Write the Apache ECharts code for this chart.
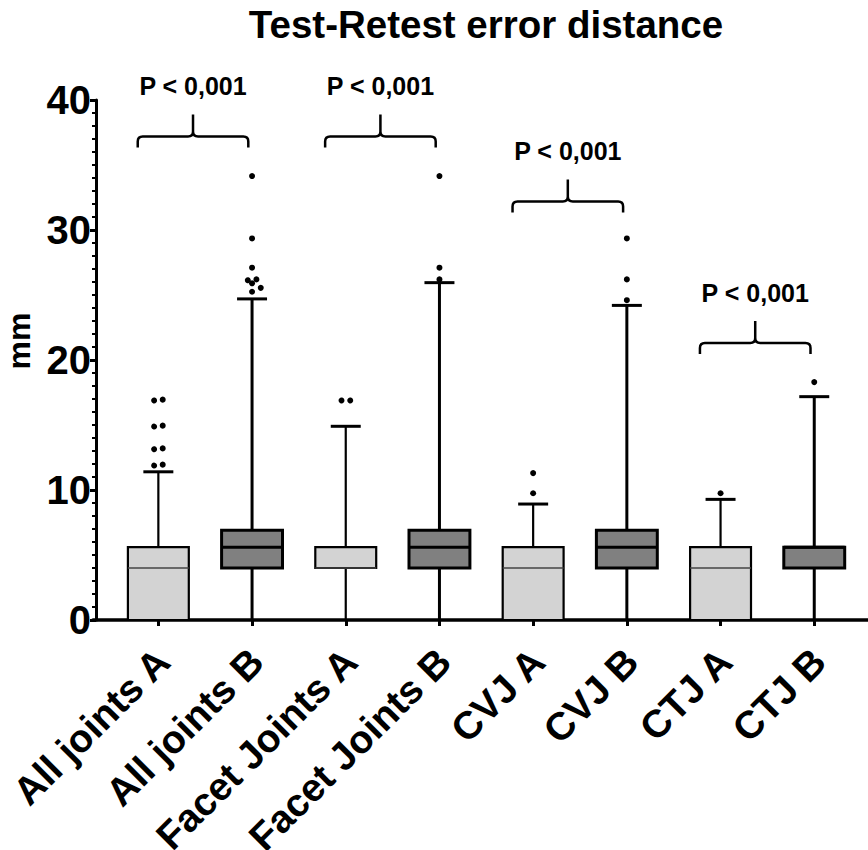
<!DOCTYPE html>
<html><head><meta charset="utf-8">
<script src="https://cdn.jsdelivr.net/npm/echarts@6/dist/echarts.min.js"></script>
<style>html,body{margin:0;padding:0;background:#fff}#c{width:868px;height:850px}</style>
</head><body><div id="c"></div>
<script>
const categories = ['All joints A', 'All joints B', 'Facet Joints A', 'Facet Joints B', 'CVJ A', 'CVJ B', 'CTJ A', 'CTJ B'];
const whiskerLow  = [0, 0, 0, 0, 0, 0, 0, 0];
const q1          = [0, 4.0, 4.0, 4.0, 0, 4.0, 0, 4.0];
const median      = [4.0, 5.6, 4.0, 5.6, 4.0, 5.6, 4.0, 5.6];
const q3          = [5.6, 6.9, 5.6, 6.9, 5.6, 6.9, 5.6, 5.6];
const whiskerHigh = [11.4, 24.7, 14.9, 25.95, 8.92, 24.2, 9.28, 17.18];
const outliers = [
  [16.95, 16.95, 14.95, 14.95, 13.2, 13.2, 11.95, 11.95],
  [34.15, 29.35, 27.1, 26.2, 26.2, 25.9, 25.55, 25.25],
  [16.95, 16.95],
  [34.15, 27.1, 26.2],
  [11.3, 9.75],
  [29.35, 26.2, 24.6],
  [9.75],
  [18.3]
];
const yTicks = [0, 10, 20, 30, 40];
const comparisons = [[0, 1], [2, 3], [4, 5], [6, 7]];
const bracketLevel = [37.2, 37.2, 32.2, 21.3];
const pLabels = ['P < 0,001', 'P < 0,001', 'P < 0,001', 'P < 0,001'];
const titleText = 'Test-Retest error distance';
const yName = 'mm';

const FONT = 'Liberation Sans, Arial, Helvetica, sans-serif';

const boxData = categories.map((c, i) => [i, whiskerLow[i], q1[i], median[i], q3[i], whiskerHigh[i]]);

// outlier lanes (simple beeswarm)
const outlierData = [];
outliers.forEach((vals, ci) => {
  const placed = [];
  const sorted = vals.slice().sort((a, b) => b - a);
  let k = 0;
  while (k < sorted.length) {
    let n = 1;
    while (k + n < sorted.length && sorted[k + n] === sorted[k]) n++;
    if (n > 1) {
      for (let j = 0; j < n; j++) placed.push([sorted[k], j - (n - 1) / 2]);
    } else {
      const cands = [0, 1, -1, 2, -2];
      let lane = 0;
      for (const cl of cands) {
        const hit = placed.some(p => Math.abs(p[0] - sorted[k]) < 0.45 && Math.abs(p[1] - cl) < 0.5);
        if (!hit) { lane = cl; break; }
      }
      placed.push([sorted[k], lane]);
    }
    k += n;
  }
  placed.forEach(p => outlierData.push([ci, p[0], p[1]]));
});

const bracketData = comparisons.map((c, i) => [c[0], bracketLevel[i], c[1], i]);

const chart = echarts.init(document.getElementById('c'), null, { renderer: 'svg' });

chart.setOption({
  backgroundColor: '#fff',
  animation: false,
  title: {
    text: titleText,
    left: 481,
    top: 0,
    textAlign: 'center',
    textStyle: { fontSize: 38.5, fontWeight: 'bold', fontFamily: FONT, color: '#000' }
  },
  grid: [
    { left: 111.5, width: 749.6, top: 100, height: 520, outerBoundsMode: 'none', containLabel: false },
    { left: 93, right: 0, top: 100, height: 520, outerBoundsMode: 'none', containLabel: false }
  ],
  xAxis: [
    {
      type: 'category', gridIndex: 0, data: categories,
      axisLine: { show: false },
      axisTick: { show: true, alignWithLabel: true, length: 6, lineStyle: { color: '#000', width: 3 } },
      axisLabel: {
        rotate: 45, margin: 12, verticalAlign: 'top', align: 'right', padding: [0, 13, 0, 0],
        color: '#000', fontSize: 39, fontWeight: 'bold', fontFamily: FONT, interval: 0
      },
      splitLine: { show: false }
    },
    {
      type: 'value', gridIndex: 1, min: 0, max: 1,
      axisLine: { show: true, lineStyle: { color: '#000', width: 3.5 } },
      axisTick: { show: false }, axisLabel: { show: false }, splitLine: { show: false }
    }
  ],
  yAxis: [
    {
      type: 'value', gridIndex: 0, min: 0, max: 40, interval: 10, offset: 15.5,
      name: yName, nameLocation: 'middle', nameGap: 56, nameRotate: 90,
      nameTextStyle: { fontSize: 32, lineHeight: 34, fontWeight: 'bold', fontFamily: FONT, color: '#000', padding: [0, 0, 0, 38] },
      axisLine: { show: true, lineStyle: { color: '#000', width: 3 } },
      axisTick: { show: true, length: 6, lineStyle: { color: '#000', width: 3 } },
      minorTick: { show: true, splitNumber: 10, length: 4, lineStyle: { color: '#000', width: 2 } },
      axisLabel: {
        margin: 5, color: '#000', fontSize: 40, fontWeight: 'bold', fontFamily: FONT,
        formatter: v => (yTicks.indexOf(v) >= 0 ? String(v) : '')
      },
      splitLine: { show: false }
    },
    { type: 'value', gridIndex: 1, show: false, min: 0, max: 1 }
  ],
  series: [
    {
      type: 'custom', name: 'boxes', xAxisIndex: 0, yAxisIndex: 0,
      data: boxData,
      encode: { x: 0, y: [1, 2, 3, 4, 5] },
      renderItem: function (params, api) {
        const i = api.value(0);
        const lo = api.coord([i, api.value(1)]);
        const b1 = api.coord([i, api.value(2)]);
        const md = api.coord([i, api.value(3)]);
        const b3 = api.coord([i, api.value(4)]);
        const hi = api.coord([i, api.value(5)]);
        const band = api.size([1, 0])[0];
        const bw = band * 0.65, cw = band * 0.32;
        const x = b1[0];
        const isA = /A$/.test(categories[i]);
        const fill = isA ? '#d3d3d3' : '#808080';
        const bLw = isA ? 2.2 : 3;
        const wLw = isA ? 2.2 : 3;
        const ch = [];
        ch.push({ type: 'line', shape: { x1: x, y1: b3[1], x2: x, y2: hi[1] }, style: { stroke: '#000', lineWidth: wLw } });
        if (lo[1] - b1[1] > 0.5) {
          ch.push({ type: 'line', shape: { x1: x, y1: b1[1], x2: x, y2: lo[1] }, style: { stroke: '#000', lineWidth: wLw } });
        }
        ch.push({ type: 'line', shape: { x1: x - cw / 2, y1: hi[1], x2: x + cw / 2, y2: hi[1] }, style: { stroke: '#000', lineWidth: 3 } });
        ch.push({ type: 'rect', shape: { x: x - bw / 2, y: b3[1], width: bw, height: b1[1] - b3[1] }, style: { fill: fill, stroke: '#000', lineWidth: bLw } });
        ch.push({ type: 'line', shape: { x1: x - bw / 2, y1: md[1], x2: x + bw / 2, y2: md[1] }, style: { stroke: isA ? '#444' : '#000', lineWidth: isA ? 1.6 : 3 } });
        return { type: 'group', children: ch };
      },
      z: 2
    },
    {
      type: 'custom', name: 'outliers', xAxisIndex: 0, yAxisIndex: 0,
      data: outlierData,
      encode: { x: 0, y: 1 },
      renderItem: function (params, api) {
        const p = api.coord([api.value(0), api.value(1)]);
        const band = api.size([1, 0])[0];
        const dx = api.value(2) * band * 0.093;
        return { type: 'circle', shape: { cx: p[0] + dx, cy: p[1], r: 3 }, style: { fill: '#000' } };
      },
      z: 3
    },
    {
      type: 'custom', name: 'brackets', xAxisIndex: 0, yAxisIndex: 0,
      data: bracketData,
      encode: { x: 0, y: 1 },
      clip: false,
      renderItem: function (params, api) {
        const li = api.value(0), lv = api.value(1), ri = api.value(2), idx = api.value(3);
        const band = api.size([1, 0])[0];
        const pL = api.coord([li, lv]);
        const pR = api.coord([ri, lv]);
        const x1 = pL[0] - 0.22 * band, x2 = pR[0] - 0.04 * band, y = pL[1];
        const xm = (x1 + x2) / 2;
        const drop = 11, rise = 22, r = 5;
        const d = 'M' + x1 + ' ' + (y + drop) + ' L' + x1 + ' ' + (y + r) + ' Q' + x1 + ' ' + y + ' ' + (x1 + r) + ' ' + y +
          ' L' + (xm - r) + ' ' + y + ' Q' + xm + ' ' + y + ' ' + xm + ' ' + (y - r) + ' L' + xm + ' ' + (y - rise) +
          ' M' + xm + ' ' + (y - r) + ' Q' + xm + ' ' + y + ' ' + (xm + r) + ' ' + y +
          ' L' + (x2 - r) + ' ' + y + ' Q' + x2 + ' ' + y + ' ' + x2 + ' ' + (y + r) + ' L' + x2 + ' ' + (y + drop);
        return {
          type: 'group', children: [
            { type: 'path', shape: { pathData: d }, style: { stroke: '#000', fill: null, lineWidth: 2.5 } },
            { type: 'text', style: { text: pLabels[idx], x: xm, y: y - 50, align: 'center', verticalAlign: 'middle',
              fontSize: 25, fontWeight: 'bold', fontFamily: FONT, fill: '#000' } }
          ]
        };
      },
      z: 4
    }
  ]
});
</script>
</body></html>
